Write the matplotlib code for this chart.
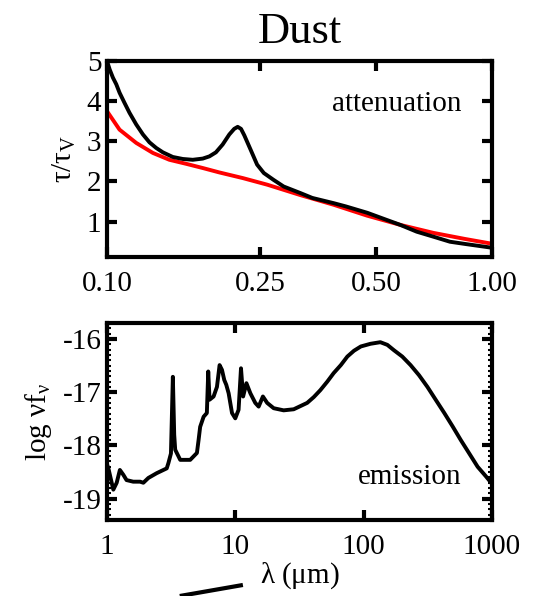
import numpy as np
import matplotlib
matplotlib.use("Agg")
import matplotlib.pyplot as plt
from matplotlib.ticker import MultipleLocator, FixedLocator, NullLocator
from matplotlib.lines import Line2D

plt.rcParams['font.family'] = ['Liberation Serif', 'DejaVu Serif']
plt.rcParams['mathtext.fontset'] = 'custom'
plt.rcParams['mathtext.rm'] = 'Liberation Serif'
plt.rcParams['mathtext.it'] = 'Liberation Serif:italic'

# attenuation curve with 2175A bump (black)
att_wave = [0.100, 0.1016, 0.1036, 0.1057, 0.1078, 0.1110, 0.1144, 0.1191, 0.1240,
            0.1289, 0.1342, 0.1397, 0.1482, 0.1574, 0.1670, 0.1773, 0.1845, 0.1918,
            0.1997, 0.2078, 0.2140, 0.2185, 0.2229, 0.2273, 0.2361, 0.2454, 0.2555,
            0.2708, 0.2876, 0.3182, 0.3415, 0.3880, 0.4170, 0.4745, 0.5234, 0.5776,
            0.6375, 0.7047, 0.7777, 0.858, 1.0]
att_tau = [5.0, 4.79, 4.585, 4.42, 4.21, 3.96, 3.71, 3.42, 3.17,
           2.975, 2.835, 2.725, 2.61, 2.56, 2.54, 2.57, 2.625, 2.725,
           2.92, 3.17, 3.31, 3.36, 3.31, 3.15, 2.79, 2.42, 2.21,
           2.04, 1.875, 1.71, 1.59, 1.46, 1.38, 1.22, 1.07, 0.92,
           0.75, 0.625, 0.5, 0.44, 0.35]

# Calzetti-like curve (red)
cal_wave = [0.100, 0.1078, 0.1191, 0.1316, 0.1452, 0.1605, 0.1773, 0.1958, 0.2252,
            0.2608, 0.3182, 0.388, 0.4735, 0.5776, 0.7047, 0.85, 1.0]
cal_tau = [3.75, 3.29, 2.96, 2.71, 2.54, 2.44, 2.335, 2.225, 2.085,
           1.92, 1.66, 1.42, 1.15, 0.92, 0.72, 0.57, 0.45]

# dust emission spectrum
em_wave = [1.0, 1.03, 1.069, 1.12, 1.19, 1.26, 1.34, 1.42, 1.60, 1.81, 1.92, 2.10, 2.44,
           2.92, 3.01, 3.15, 3.26, 3.34, 3.40, 3.72, 4.45, 5.02, 5.17, 5.32, 5.66, 6.0,
           6.15, 6.3, 6.77, 7.19, 7.54, 7.87, 8.2, 8.5, 8.87, 9.42, 9.99, 10.6,
           11.07, 11.5, 12.2, 13.1, 14.3, 15.2, 16.4, 17.7, 19.9, 23.8, 28.5, 36.3,
           40.9, 46.0, 52.1, 58.4, 66.4, 74.6, 84.1, 95.1, 113, 134.9, 153, 172, 200,
           232, 270, 314, 364, 425, 493, 572, 661, 773, 897, 1000]
em_flux = [-18.35, -18.45, -18.62, -18.83, -18.70, -18.46, -18.55, -18.65, -18.68, -18.68,
           -18.70, -18.61, -18.52, -18.43, -18.33, -18.15, -16.71, -17.80, -18.08,
           -18.27, -18.27, -18.14, -17.90, -17.65, -17.46, -17.39, -16.61, -17.14,
           -17.08, -16.90, -16.49, -16.58, -16.77, -16.86, -17.02, -17.39, -17.49,
           -17.33, -16.55, -17.08, -16.83, -17.02, -17.20, -17.27, -17.08, -17.20,
           -17.30, -17.34, -17.32, -17.20,
           -17.09, -16.96, -16.80, -16.64, -16.49, -16.33, -16.22, -16.14, -16.09,
           -16.06, -16.11, -16.21, -16.33,
           -16.49, -16.68, -16.90, -17.14, -17.39, -17.64, -17.90, -18.14, -18.40,
           -18.58, -18.72]

FS = 21
fig = plt.figure(figsize=(5.35, 5.96), dpi=100)

def style(ax):
    for s in ax.spines.values():
        s.set_linewidth(3)
    ax.tick_params(which='both', direction='in', top=True, right=True,
                   labelsize=FS)
    ax.tick_params(axis='x', pad=10)
    ax.tick_params(axis='y', pad=4)
    ax.tick_params(which='major', length=7, width=3)
    ax.tick_params(which='minor', length=3, width=1.5)

# top panel
ax1 = fig.add_axes([0.2, 0.5688, 0.7196, 0.3289])
ax1.plot(att_wave, att_tau, color='black', lw=2.8, zorder=3)
ax1.plot(cal_wave, cal_tau, color='red', lw=2.8, zorder=2)
ax1.set_xscale('log')
ax1.set_xlim(0.1, 1.0)
ax1.set_ylim(0.12, 5.0)
ax1.xaxis.set_major_locator(FixedLocator([0.1, 0.25, 0.5, 1.0]))
ax1.xaxis.set_minor_locator(NullLocator())
ax1.set_xticklabels(['0.10', '0.25', '0.50', '1.00'])
ax1.yaxis.set_major_locator(FixedLocator([1, 2, 3, 4, 5]))
style(ax1)
ax1.set_ylabel(r'$\mathrm{τ/τ_V}$', fontsize=FS, labelpad=6)
ax1.text(0.92, 0.78, 'attenuation', transform=ax1.transAxes, ha='right',
         va='center', fontsize=FS)
ax1.set_title('Dust', fontsize=32, pad=13)

# bottom panel
ax2 = fig.add_axes([0.2, 0.1275, 0.7196, 0.3305])
ax2.plot(em_wave, em_flux, color='black', lw=2.8)
ax2.set_xscale('log')
ax2.set_xlim(1, 1000)
ax2.set_ylim(-19.4, -15.7)
ax2.xaxis.set_major_locator(FixedLocator([1, 10, 100, 1000]))
ax2.xaxis.set_minor_locator(NullLocator())
ax2.set_xticklabels(['1', '10', '100', '1000'])
ax2.yaxis.set_major_locator(FixedLocator([-16, -17, -18, -19]))
ax2.yaxis.set_minor_locator(MultipleLocator(0.1))
ax2.set_yticklabels(['-16', '-17', '-18', '-19'])
style(ax2)
ax2.set_ylabel(r'$\mathrm{log\ νf_ν}$', fontsize=FS, labelpad=6)
ax2.set_xlabel(r'$\mathrm{λ\ (μm)}$', fontsize=FS, labelpad=0)
ax2.text(0.92, 0.22, 'emission', transform=ax2.transAxes, ha='right',
         va='center', fontsize=FS)

# stray stroke below the x label
fig.add_artist(Line2D([0.336, 0.454], [0.0, 0.0185], transform=fig.transFigure,
                      color='black', lw=3, solid_capstyle='butt'))

fig.savefig('out.png', dpi=100)
